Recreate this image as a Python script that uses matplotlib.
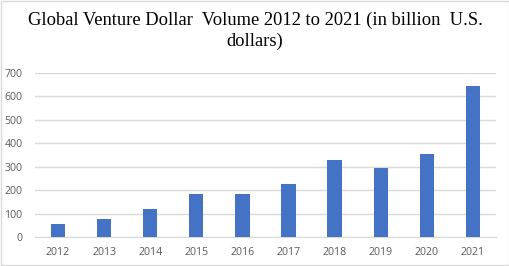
import matplotlib.pyplot as plt
import numpy as np

years = ["2012", "2013", "2014", "2015", "2016", "2017", "2018", "2019", "2020", "2021"]
volume = [55, 77, 119, 183, 183, 226, 328, 294, 354, 643]
yticks = [0, 100, 200, 300, 400, 500, 600, 700]

fig = plt.figure(figsize=(5.1, 2.66), dpi=100)
ax = fig.add_axes([0.0686, 0.109, 0.9039, 0.6177])

x = np.arange(len(years))
ax.bar(x, volume, width=0.31, color="#4472c4", zorder=3)

ax.set_xlim(-0.5, len(years) - 0.5)
ax.set_ylim(0, 700)
ax.set_xticks(x)
ax.set_xticklabels(years)
ax.set_yticks(yticks)
ax.grid(axis="y", color="#d9d9d9", linewidth=1, zorder=0)
for s in ["top", "right", "left"]:
    ax.spines[s].set_visible(False)
ax.spines["bottom"].set_color("#d9d9d9")
ax.tick_params(length=0, labelsize=7.6, colors="#595959", labelfontfamily="Open Sans")
ax.tick_params(axis="y", pad=9)
ax.tick_params(axis="x", pad=7)

fig.text(0.5, 0.885, "Global Venture Dollar  Volume 2012 to 2021 (in billion  U.S.\ndollars)",
         ha="center", va="center", fontsize=13.3, family="Liberation Serif",
         linespacing=1.3)

fig.patches.append(plt.Rectangle((0.001, 0.002), 0.997, 0.995, transform=fig.transFigure,
                                 fill=False, edgecolor="#d9d9d9", linewidth=1))

fig.savefig("out.png", dpi=100)
